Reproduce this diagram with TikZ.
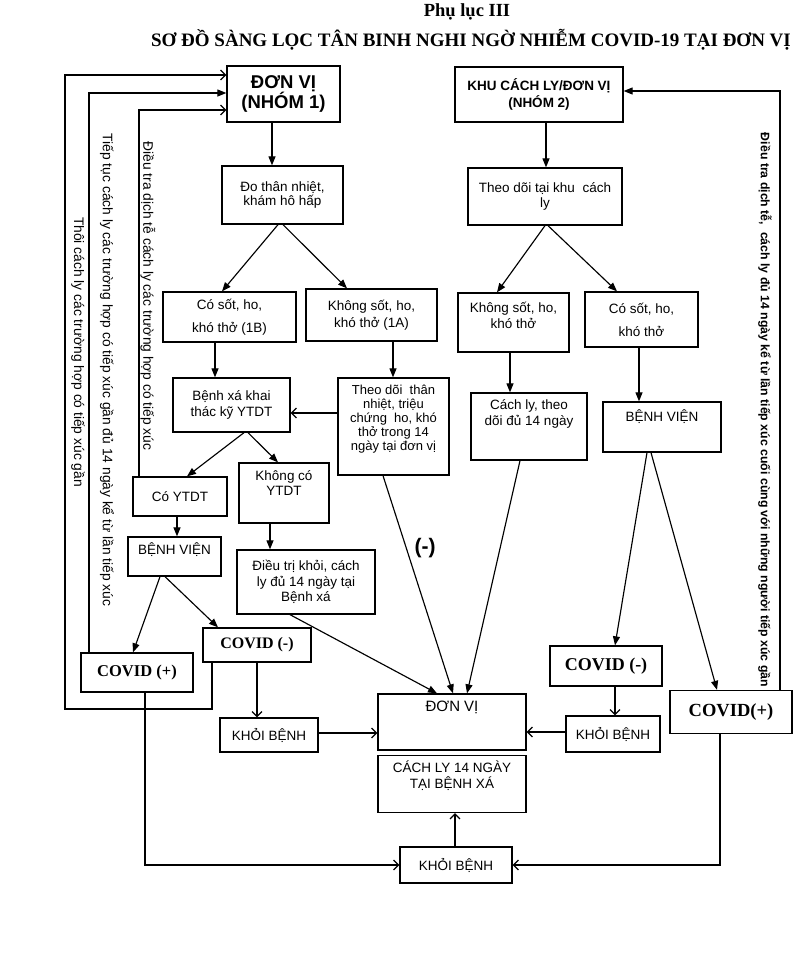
\documentclass[tikz,border=0pt]{standalone}
\usepackage{fontspec}
\setmainfont{Liberation Sans}
\newfontfamily\tnrfont{Liberation Serif}
\usetikzlibrary{arrows.meta}
\tikzset{
  box/.style={draw, line width=1.3pt, inner sep=2pt, align=center, font=\fontsize{13.5}{16}\selectfont},
  cov/.style={box, font=\tnrfont\bfseries\fontsize{16}{18}\selectfont},
  inl/.style={anchor=north, align=center, inner sep=0pt, font=\fontsize{13.5}{15.5}\selectfont},
  arr/.style={line width=1.15pt, -{Triangle[length=9pt,width=7pt]}},
  oarr/.style={line width=1.15pt, -{Straight Barb[length=5pt,width=10pt]}},
  vtext/.style={rotate=-90, inner sep=0pt, font=\fontsize{13.8}{16}\selectfont},
}
\begin{document}
\begin{tikzpicture}[x=1pt,y=-1pt]
\useasboundingbox (0,0) rectangle (800,972);
% titles
\node[font=\tnrfont\bfseries\fontsize{18.5}{20}\selectfont] (t0) at (467,12) {Phụ lục III};
\node[font=\tnrfont\bfseries\fontsize{19}{21}\selectfont] (t00) at (471,40) {SƠ ĐỒ SÀNG LỌC TÂN BINH NGHI NGỜ NHIỄM COVID-19 TẠI ĐƠN VỊ};

% top boxes
\node[box, minimum width=113pt, minimum height=56pt, font=\bfseries\fontsize{18.5}{20.5}\selectfont] (n1) at (283.5,94) {ĐƠN VỊ\\(NHÓM 1)};
\node[box, minimum width=121pt, minimum height=58pt, font=\fontsize{13.5}{14.5}\selectfont] (do) at (282.5,195) {Đo thân nhiệt,\\khám hô hấp};
\node[box, minimum width=168pt, minimum height=55pt, font=\bfseries\fontsize{13.5}{17}\selectfont] (n2) at (539,94.5) {KHU CÁCH LY/ĐƠN VỊ\\(NHÓM 2)};
\node[box, minimum width=154pt, minimum height=57pt, font=\fontsize{13.5}{15.5}\selectfont] (td) at (545,196.5) {Theo dõi tại khu\ \ cách\\ly};

% second row
\node[box, minimum width=133pt, minimum height=50pt, font=\fontsize{13.5}{23}\selectfont] (c1b) at (229.5,317) {Có sốt, ho,\\khó thở (1B)};
\node[box, minimum width=131pt, minimum height=52pt, font=\fontsize{13.5}{17}\selectfont] (k1a) at (371.5,315) {Không sốt, ho,\\khó thở (1A)};
\node[box, minimum width=111pt, minimum height=59pt, label={[inl,yshift=-10pt]north:{Không sốt, ho,\\khó thở}}] (kr) at (513.5,322.5) {};
\node[box, minimum width=113pt, minimum height=55pt, font=\fontsize{13.5}{23}\selectfont] (cr) at (641.5,319.5) {Có sốt, ho,\\khó thở};

% third row
\node[box, minimum width=117pt, minimum height=54pt, font=\fontsize{13.5}{15.5}\selectfont] (bx) at (231.5,405) {Bệnh xá khai\\thác kỹ YTDT};
\node[box, minimum width=111pt, minimum height=97pt, label={[inl,yshift=-7pt,font=\fontsize{13}{14.2}\selectfont]north:{Theo dõi\ \ thân\\nhiệt, triệu\\chứng\ \ ho, khó\\thở trong 14\\ngày tại đơn vị}}] (tdtn) at (393.5,426.5) {};
\node[box, minimum width=116pt, minimum height=67pt, label={[inl,yshift=-7pt,font=\fontsize{13.5}{16}\selectfont]north:{Cách ly, theo\\dõi đủ 14 ngày}}] (cl14) at (529,426.5) {};
\node[box, minimum width=118pt, minimum height=50pt, label={[inl,yshift=-8pt]north:{BỆNH VIỆN}}] (bvr) at (662,427) {};

% left lower
\node[box, minimum width=94pt, minimum height=39pt] (cytdt) at (180,496.5) {Có YTDT};
\node[box, minimum width=90pt, minimum height=60pt, label={[inl,yshift=-8pt,font=\fontsize{13.5}{15}\selectfont]north:{Không có\\YTDT}}] (kcytdt) at (284,493) {};
\node[box, minimum width=93pt, minimum height=39pt, label={[inl,yshift=-6pt]north:{BỆNH VIỆN}}] (bvl) at (174.5,556.5) {};
\node[box, minimum width=138pt, minimum height=64pt, font=\fontsize{13.5}{15.5}\selectfont] (dtk) at (306,582) {Điều trị khỏi, cách\\ly đủ 14 ngày tại\\Bệnh xá};
\node[cov, minimum width=108pt, minimum height=34pt] (covml) at (257,645) {COVID (-)};
\node[cov, minimum width=112pt, minimum height=39pt, font=\tnrfont\bfseries\fontsize{16.5}{18}\selectfont] (covpl) at (137,672.5) {COVID (+)};

% right lower
\node[cov, minimum width=112pt, minimum height=40pt, font=\tnrfont\bfseries\fontsize{18}{20}\selectfont] (covmr) at (606,666) {COVID (-)};
\node[cov, minimum width=122pt, minimum height=43pt, font=\tnrfont\bfseries\fontsize{18.5}{20}\selectfont] (covpr) at (731,712) {COVID(+)};

% bottom
\node[box, minimum width=148pt, minimum height=56pt, label={[inl,yshift=-7pt,font=\fontsize{15}{17}\selectfont]north:{ĐƠN VỊ}}] (dv) at (452,722) {};
\node[box, minimum width=148pt, minimum height=57pt, label={[inl,yshift=-6pt,font=\fontsize{13.5}{16}\selectfont]north:{CÁCH LY 14 NGÀY\\TẠI BỆNH XÁ}}] (clbx) at (452,784) {};
\node[box, minimum width=98pt, minimum height=34pt] (kbl) at (269,735) {KHỎI BỆNH};
\node[box, minimum width=94pt, minimum height=36pt] (kbr) at (613,734) {KHỎI BỆNH};
\node[box, minimum width=112pt, minimum height=36pt] (kbb) at (456,865) {KHỎI BỆNH};

% (-) label
\node[font=\bfseries\fontsize{21}{24}\selectfont] (minus) at (425,548) {(-)};

% vertical texts
\node[vtext] (v1) at (78,352) {Thôi cách ly các trường hợp có tiếp xúc gần};
\node[vtext] (v2) at (107,370) {Tiếp tục cách ly các trường hợp có tiếp xúc gần đủ 14 ngày kể từ lần tiếp xúc};
\node[vtext] (v3) at (148,296) {Điều tra dịch tễ cách ly các trường hợp có tiếp xúc};
\node[vtext, font=\bfseries\fontsize{12.3}{14}\selectfont] (v4) at (765,410) {Điều tra dịch tễ,\ \ cách ly đủ 14 ngày kể từ lần tiếp xúc cuối cùng với những người tiếp xúc gần};

% connectors
\draw[arr] (n1.south -| 272,0) -- (do.north -| 272,0);
\draw[arr] (n2.south -| 546,0) -- (td.north -| 546,0);
\draw[arr] (do.south -| 278,0) -- (c1b.north -| 222,0);
\draw[arr] (do.south -| 283,0) -- (k1a.north -| 347,0);
\draw[arr] (td.south -| 545,0) -- (kr.north -| 497,0);
\draw[arr] (td.south -| 548,0) -- (cr.north -| 617,0);
\draw[arr] (c1b.south -| 215,0) -- (bx.north -| 215,0);
\draw[arr] (k1a.south -| 393,0) -- (tdtn.north -| 393,0);
\draw[arr] (kr.south -| 510,0) -- (cl14.north -| 510,0);
\draw[arr] (cr.south -| 639,0) -- (bvr.north -| 639,0);
\draw[oarr] (tdtn.west |- 0,413) -- (bx.east |- 0,413);
\draw[arr] (bx.south -| 244,0) -- (cytdt.north -| 187,0);
\draw[arr] (bx.south -| 248,0) -- (kcytdt.north -| 278,0);
\draw[arr] (cytdt.south -| 177,0) -- (bvl.north -| 177,0);
\draw[arr] (kcytdt.south -| 270,0) -- (dtk.north -| 270,0);
\draw[arr] (bvl.south -| 160,0) -- (covpl.north -| 133,0);
\draw[arr] (bvl.south -| 165,0) -- (covml.north -| 218,0);
\draw[arr] (dtk.south -| 290,0) -- (dv.north -| 437,0);
\draw[arr] (tdtn.south -| 383,0) -- (dv.north -| 453,0);
\draw[arr] (cl14.south -| 520,0) -- (dv.north -| 467,0);
\draw[arr] (bvr.south -| 647,0) -- (covmr.north -| 615,0);
\draw[arr] (bvr.south -| 651,0) -- (covpr.north -| 717,0);
\draw[oarr] (covml.south -| 257,0) -- (kbl.north -| 257,0);
\draw[oarr] (covmr.south -| 615,0) -- (kbr.north -| 615,0);
\draw[oarr] (kbl.east |- 0,733) -- (dv.west |- 0,733);
\draw[oarr] (kbr.west |- 0,732) -- (dv.east |- 0,732);
\draw[oarr] (covpl.south -| 145,0) |- (kbb.west);
\draw[oarr] (covpr.south -| 720,0) |- (kbb.east);
\draw[oarr] (kbb.north -| 455,0) -- (clbx.south -| 455,0);

% feedback loops
\draw[oarr] (covml.south -| 212,0) -- (212,709) -- (65,709) -- (65,75) -- (n1.west |- 0,75);
\draw[arr] (covpl.north -| 89,0) -- (89,93) -- (n1.west |- 0,93);
\draw[oarr] (cytdt.north -| 139,0) -- (139,110) -- (n1.west |- 0,110);
\draw[arr] (covpr.north -| 780,0) -- (780,91) -- (n2.east |- 0,91);
\end{tikzpicture}
\end{document}
